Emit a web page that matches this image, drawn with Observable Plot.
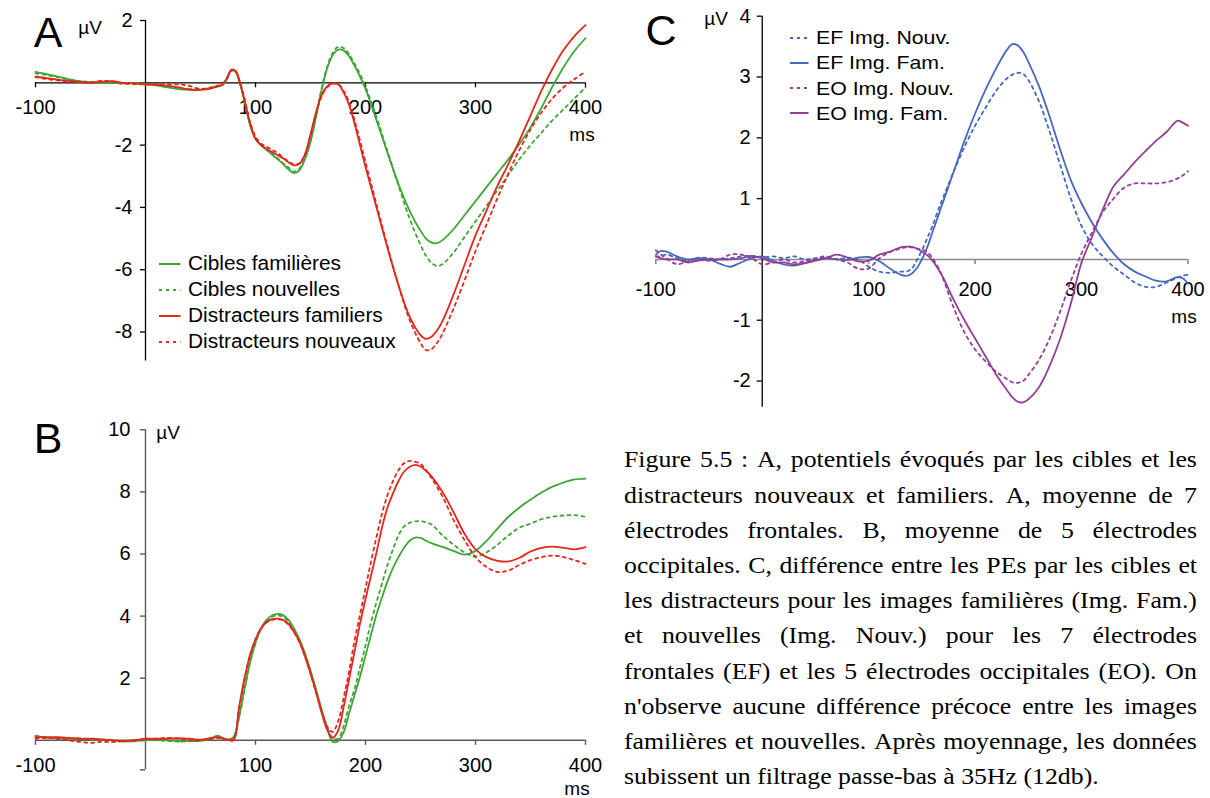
<!DOCTYPE html>
<html lang="fr">
<head>
<meta charset="utf-8">
<title>Figure 5.5</title>
<script src="https://cdn.jsdelivr.net/npm/d3@7"></script>
<script src="https://cdn.jsdelivr.net/npm/@observablehq/plot@0.6"></script>
<style>
html,body{margin:0;padding:0;background:#fff;}
#root{position:relative;width:1210px;height:798px;overflow:hidden;background:#fff;font-family:"Liberation Sans",Arial,Helvetica,sans-serif;color:#000;}
.abs{position:absolute;white-space:nowrap;line-height:1;}
#root svg{overflow:visible;}
.cap{position:absolute;font-family:"Liberation Serif","Times New Roman",serif;font-size:23.5px;color:#000;}
.capline{display:flex;justify-content:space-between;white-space:nowrap;height:35.2px;line-height:35.2px;transform-origin:0 50%;}
.capline.last{display:block;}
</style>
</head>
<body>
<div id="root"></div>
<script>
// ---------------- DATA ----------------
// Panel A : moyenne de 7 électrodes frontales
const namesA = ["Cibles familières", "Cibles nouvelles", "Distracteurs familiers", "Distracteurs nouveaux"];
const msA = [-100,-90,-80,-70,-60,-50,-40,-30,-20,-10,0,10,20,30,40,50,60,
  65,70,74,78,82,86,90,95,
  100,105,110,115,120,125,130,135,140,145,150,155,160,165,170,175,180,185,190,195,200,
  210,220,230,240,250,255,260,265,270,
  280,290,300,310,320,330,340,350,360,370,380,390,400];
const cibFamA = [0.35,0.28,0.2,0.12,0.05,0.02,0.0,0.0,-0.02,0.0,
  -0.03,-0.08,-0.15,-0.2,-0.22,-0.22,-0.16,
  -0.12,-0.08,0.1,0.4,0.35,-0.05,-0.6,-1.35,
  -1.8,-2.0,-2.15,-2.3,-2.45,-2.6,-2.78,-2.9,-2.8,-2.45,-1.9,-1.1,-0.25,0.45,0.88,1.06,1.04,0.85,0.55,0.2,-0.2,
  -1.2,-2.25,-3.25,-4.1,-4.75,-5.0,-5.13,-5.15,-5.05,
  -4.7,-4.25,-3.8,-3.35,-2.9,-2.45,-1.96,-1.43,-0.8,-0.12,0.5,1.02,1.43];
const cibNouA = [0.3,0.25,0.18,0.1,0.05,0.03,0.02,0.0,-0.03,-0.02,
  -0.05,-0.08,-0.12,-0.18,-0.2,-0.2,-0.15,
  -0.1,-0.05,0.12,0.38,0.35,-0.03,-0.55,-1.3,
  -1.78,-2.0,-2.15,-2.28,-2.42,-2.58,-2.72,-2.85,-2.75,-2.4,-1.85,-1.05,-0.2,0.5,0.95,1.15,1.12,0.92,0.62,0.28,-0.12,
  -1.1,-2.2,-3.3,-4.35,-5.2,-5.55,-5.78,-5.88,-5.82,
  -5.45,-4.95,-4.45,-3.95,-3.45,-2.95,-2.45,-2.0,-1.6,-1.2,-0.85,-0.5,-0.15];
const disFamA = [0.2,0.15,0.1,0.06,0.03,0.0,0.04,0.05,0.0,-0.02,
  -0.05,-0.06,-0.1,-0.15,-0.22,-0.23,-0.18,
  -0.12,-0.05,0.15,0.42,0.38,-0.02,-0.55,-1.3,
  -1.8,-2.0,-2.12,-2.22,-2.32,-2.42,-2.55,-2.65,-2.6,-2.3,-1.65,-0.95,-0.4,-0.12,-0.02,-0.05,-0.3,-0.7,-1.3,-2.0,-2.7,
  -4.0,-5.3,-6.5,-7.5,-8.1,-8.22,-8.15,-7.95,-7.65,
  -6.8,-5.85,-4.9,-4.1,-3.3,-2.6,-1.85,-1.05,-0.25,0.45,1.05,1.5,1.85];
const disNouA = [0.18,0.12,0.08,0.05,0.02,0.02,0.06,0.04,-0.02,-0.04,
  -0.05,-0.05,-0.05,-0.05,-0.1,-0.2,-0.15,
  -0.1,-0.03,0.15,0.4,0.36,0.0,-0.5,-1.25,
  -1.72,-1.95,-2.05,-2.15,-2.25,-2.4,-2.52,-2.62,-2.58,-2.3,-1.7,-1.0,-0.45,-0.15,-0.03,-0.04,-0.25,-0.62,-1.2,-1.85,-2.55,
  -3.9,-5.25,-6.5,-7.6,-8.35,-8.58,-8.55,-8.35,-8.05,
  -7.25,-6.35,-5.4,-4.55,-3.7,-2.9,-2.15,-1.5,-0.95,-0.5,-0.15,0.12,0.35];
const xTicksA = [-100, 100, 200, 300, 400];
const yTicksA = [2, -2, -4, -6, -8];

// Panel B : moyenne de 5 électrodes occipitales
const namesB = namesA;
const msB = [-100,-90,-80,-70,-60,-50,-40,-30,-20,-10,0,10,20,30,40,50,60,
  65,70,75,80,
  85,90,95,100,105,110,115,120,125,130,135,140,145,150,155,160,165,170,175,180,
  185,190,195,200,205,210,215,220,225,230,235,240,245,250,255,260,
  270,280,290,300,310,320,330,340,350,360,370,380,390,400];
const cibFamB = [0.15,0.08,0.07,0.05,0.05,0.03,0.02,0.0,-0.03,-0.03,0.0,0.02,0.0,-0.03,-0.02,-0.02,0.06,
  0.15,0.08,0.02,0.1,
  0.75,1.65,2.5,3.15,3.6,3.88,4.02,4.07,4.03,3.88,3.6,3.25,2.8,2.25,1.65,1.0,0.42,-0.05,-0.03,0.25,
  0.85,1.45,2.05,2.72,3.4,4.05,4.6,5.12,5.55,5.9,6.2,6.42,6.53,6.52,6.43,6.35,
  6.23,6.1,5.98,6.1,6.42,6.82,7.2,7.5,7.75,7.98,8.17,8.3,8.4,8.43];
const cibNouB = [0.12,0.1,0.05,0.04,0.06,0.03,0.0,-0.02,-0.02,0.0,0.02,0.0,-0.02,-0.04,-0.03,-0.01,0.05,
  0.12,0.06,0.02,0.08,
  0.72,1.62,2.5,3.12,3.58,3.85,3.98,4.02,3.98,3.82,3.55,3.2,2.75,2.2,1.6,0.98,0.45,0.08,0.05,0.45,
  1.1,1.65,2.35,3.05,3.8,4.45,5.05,5.65,6.15,6.6,6.88,7.0,7.05,7.06,7.02,6.95,
  6.6,6.3,6.05,5.92,6.05,6.3,6.6,6.85,6.98,7.12,7.2,7.24,7.25,7.2];
const disFamB = [0.1,0.1,0.1,0.08,0.05,0.05,0.03,0.0,-0.03,0.0,0.05,0.05,0.05,0.07,0.05,0.02,0.08,
  0.1,0.06,0.02,0.0,
  1.05,2.0,2.75,3.25,3.6,3.8,3.9,3.92,3.88,3.75,3.5,3.18,2.7,2.15,1.55,0.9,0.35,0.08,0.3,1.05,
  1.95,2.85,3.75,4.55,5.3,6.05,6.85,7.5,7.95,8.35,8.65,8.8,8.87,8.82,8.68,8.5,
  8.0,7.35,6.65,6.15,5.9,5.78,5.76,5.88,6.08,6.2,6.24,6.2,6.15,6.22];
const disNouB = [0.05,0.08,0.05,0.0,-0.05,-0.08,-0.05,-0.05,-0.03,0.0,0.03,0.05,0.08,0.05,0.0,0.0,0.05,
  0.08,0.05,0.0,0.02,
  1.0,1.95,2.72,3.25,3.6,3.8,3.88,3.9,3.86,3.72,3.48,3.15,2.7,2.15,1.55,0.95,0.45,0.27,0.6,1.35,
  2.2,3.2,4.05,4.9,5.75,6.55,7.3,7.9,8.35,8.7,8.92,9.0,8.97,8.9,8.7,8.45,
  7.85,7.1,6.45,5.9,5.58,5.42,5.47,5.65,5.8,5.9,5.95,5.9,5.8,5.68];
const xTicksB = [-100, 100, 200, 300, 400];
const yTicksB = [10, 8, 6, 4, 2];

// Panel C : différences cibles - distracteurs
const namesC = ["EF Img. Nouv.", "EF Img. Fam.", "EO Img. Nouv.", "EO Img. Fam."];
const msC = [-100,-95,-90,-80,-70,-60,-50,-40,-30,-20,-10,0,10,20,30,40,50,60,70,80,90,100,110,120,130,
  135,140,145,150,155,160,165,170,
  180,190,200,210,220,230,
  235,240,245,250,
  260,270,280,290,300,310,320,330,340,350,360,370,380,390,395,400];
const efNou = [0.05,0.05,0.08,0.02,-0.02,0.03,0.02,0.0,0.02,0.05,0.06,0.03,0.05,0.02,0.05,0.0,0.02,0.05,0.0,0.03,0.0,-0.12,-0.2,-0.22,-0.2,
  -0.2,-0.16,-0.02,0.15,0.35,0.55,0.8,1.02,
  1.45,1.85,2.2,2.5,2.78,2.98,
  3.04,3.07,3.05,2.95,
  2.6,2.1,1.55,1.0,0.55,0.25,0.05,-0.12,-0.25,-0.38,-0.45,-0.45,-0.38,-0.3,-0.27,-0.25];
const efFam = [0.08,0.14,0.13,0.05,0.0,0.02,0.0,-0.07,-0.12,-0.05,0.02,0.05,-0.02,-0.08,-0.1,-0.06,-0.01,0.02,0.0,-0.01,0.03,0.04,-0.03,-0.15,-0.25,
  -0.27,-0.24,-0.15,0.0,0.2,0.45,0.7,0.95,
  1.45,1.95,2.4,2.8,3.15,3.45,
  3.54,3.52,3.42,3.25,
  2.85,2.35,1.8,1.3,0.92,0.6,0.33,0.1,-0.08,-0.2,-0.28,-0.35,-0.36,-0.29,-0.31,-0.4];
const eoNou = [0.15,0.08,0.02,-0.08,-0.03,0.0,-0.02,0.0,0.08,0.08,0.02,-0.08,-0.05,0.0,-0.05,-0.03,0.0,0.03,0.0,-0.05,-0.15,-0.15,0.02,0.12,0.18,
  0.2,0.2,0.18,0.16,0.12,0.02,-0.12,-0.32,
  -0.8,-1.2,-1.48,-1.68,-1.85,-1.97,
  -2.02,-2.03,-2.0,-1.9,
  -1.65,-1.3,-0.85,-0.35,0.1,0.45,0.78,1.0,1.18,1.25,1.25,1.25,1.27,1.33,1.38,1.45];
const eoFam = [0.05,0.02,0.0,0.0,-0.05,-0.02,0.0,0.0,0.0,0.02,0.06,0.02,-0.05,-0.05,-0.08,-0.06,-0.02,0.02,0.08,0.03,-0.03,-0.02,0.08,0.13,0.2,
  0.21,0.21,0.18,0.13,0.07,-0.02,-0.15,-0.3,
  -0.67,-1.0,-1.3,-1.6,-1.9,-2.15,
  -2.27,-2.34,-2.35,-2.3,
  -2.1,-1.75,-1.3,-0.72,-0.05,0.38,0.82,1.2,1.4,1.6,1.78,1.95,2.1,2.28,2.25,2.2];
const xTicksC = [-100, 100, 200, 300, 400];
const yTicksC = [4, 3, 2, 1, -1, -2];

const captionLines = [
  "Figure 5.5 : A, potentiels évoqués par les cibles et les",
  "distracteurs nouveaux et familiers. A, moyenne de 7",
  "électrodes frontales. B, moyenne de 5 électrodes",
  "occipitales. C, différence entre les PEs par les cibles et",
  "les distracteurs pour les images familières (Img. Fam.)",
  "et nouvelles (Img. Nouv.) pour les 7 électrodes",
  "frontales (EF) et les 5 électrodes occipitales (EO). On",
  "n'observe aucune différence précoce entre les images",
  "familières et nouvelles. Après moyennage, les données",
  "subissent un filtrage passe-bas à 35Hz (12db)."
];

// ---------------- STYLES ----------------
const GREEN = "#3ea636", RED = "#e3271d", BLUE = "#4668bd", PURPLE = "#933f95";
const DOT = "3,4";
const stylesAB = [
  {color: GREEN}, {color: GREEN, dash: DOT}, {color: RED}, {color: RED, dash: DOT}
];
const stylesC = [
  {color: BLUE, dash: DOT}, {color: BLUE}, {color: PURPLE, dash: DOT}, {color: PURPLE}
];

const root = document.getElementById("root");

function panel(cfg) {
  const marks = [
    Plot.ruleY([0], {stroke: cfg.xAxisColor, strokeWidth: cfg.xAxisWidth}),
    Plot.ruleX([0], {stroke: cfg.yAxisColor, strokeWidth: cfg.yAxisWidth}),
    Plot.ruleX(cfg.xTicks, {x: d => d, y1: 0, y2: 0, insetTop: 0, insetBottom: -5, stroke: cfg.xAxisColor, strokeWidth: cfg.xAxisWidth}),
    Plot.ruleY(cfg.yTickMarks, {y: d => d, x1: 0, x2: 0, insetLeft: -5, insetRight: 0, stroke: cfg.yAxisColor, strokeWidth: cfg.yAxisWidth}),
    Plot.text(cfg.xTicks, {x: d => d, y: 0, dy: cfg.xLabelDy, text: d => String(d), fontSize: 20, fill: "#000"}),
    Plot.text(cfg.yTicks, {x: 0, y: d => d, dx: cfg.yLabelDx, textAnchor: "end", text: d => String(d), fontSize: 20, fill: "#000"})
  ];
  cfg.names.forEach((name, k) => {
    const rows = cfg.ms.map((t, i) => ({ms: t, v: cfg.values[k][i], serie: name}));
    const st = cfg.styles[k];
    const opts = {x: "ms", y: "v", stroke: st.color, strokeWidth: 1.8, curve: "catmull-rom"};
    if (st.dash) opts.strokeDasharray = st.dash;
    marks.push(Plot.line(rows, opts));
  });
  const svg = Plot.plot({
    width: cfg.width, height: cfg.height,
    marginLeft: cfg.mL, marginRight: cfg.mR, marginTop: cfg.mT, marginBottom: cfg.mB,
    x: {domain: [-100, 400], axis: null},
    y: {domain: cfg.yDomain, axis: null},
    style: {fontFamily: '"Liberation Sans", Arial, sans-serif', fontSize: "20px", background: "none", overflow: "visible", color: "#000"},
    marks
  });
  svg.style.position = "absolute";
  svg.style.left = cfg.left + "px";
  svg.style.top = cfg.top + "px";
  root.appendChild(svg);
}

// Panel A
panel({
  left: 0, top: 0, width: 600, height: 380, mL: 35, mR: 15, mT: 20, mB: 19.5,
  yDomain: [-8.93, 2], ms: msA, names: namesA, values: [cibFamA, cibNouA, disFamA, disNouA], styles: stylesAB,
  xTicks: xTicksA, yTicks: yTicksA, yTickMarks: yTicksA,
  xAxisColor: "#000", yAxisColor: "#000", xAxisWidth: 1.3, yAxisWidth: 1.3, xLabelDy: 24.5, yLabelDx: -13
});
// Panel B
panel({
  left: 0, top: 400, width: 600, height: 398, mL: 35, mR: 15, mT: 29.3, mB: 28.7,
  yDomain: [-0.95, 10], ms: msB, names: namesB, values: [cibFamB, cibNouB, disFamB, disNouB], styles: stylesAB,
  xTicks: xTicksB, yTicks: yTicksB, yTickMarks: yTicksB.concat([-0.95]),
  xAxisColor: "#5a5a5a", yAxisColor: "#5a5a5a", xAxisWidth: 1.4, yAxisWidth: 1.4, xLabelDy: 25, yLabelDx: -15
});
// Panel C
panel({
  left: 600, top: 0, width: 610, height: 420, mL: 55.3, mR: 22.5, mT: 15.7, mB: 13.3,
  yDomain: [-2.43, 4], ms: msC, names: namesC, values: [efNou, efFam, eoNou, eoFam], styles: stylesC,
  xTicks: xTicksC, yTicks: yTicksC, yTickMarks: yTicksC,
  xAxisColor: "#8c8c8c", yAxisColor: "#111", xAxisWidth: 1.6, yAxisWidth: 1.4, xLabelDy: 30.5, yLabelDx: -11.5
});

// ---------------- HTML text overlays ----------------
function label(txt, cx, cy, size, extra) {
  const d = document.createElement("div");
  d.className = "abs";
  d.textContent = txt;
  d.style.fontSize = size + "px";
  d.style.left = cx + "px";
  d.style.top = cy + "px";
  d.style.transform = "translate(-50%,-50%)" + (extra || "");
  root.appendChild(d);
  return d;
}
label("A", 48, 32, 43);
label("B", 48, 438, 43);
label("C", 661, 30, 43);
label("µV", 90, 27, 19);
label("µV", 168, 432, 19);
label("µV", 716, 18, 19);
label("ms", 582, 134, 19);
label("ms", 577, 788, 19);
label("ms", 1184, 316, 19);

function legend(names, styles, x0, x1, textX, top0, step, size, k) {
  names.forEach((n, i) => {
    const y = top0 + i * step;
    const st = styles[i];
    const s = document.createElementNS("http://www.w3.org/2000/svg", "svg");
    s.setAttribute("width", x1 - x0);
    s.setAttribute("height", 6);
    s.style.position = "absolute";
    s.style.left = x0 + "px";
    s.style.top = (y - 3) + "px";
    const l = document.createElementNS("http://www.w3.org/2000/svg", "line");
    l.setAttribute("x1", 0); l.setAttribute("x2", x1 - x0);
    l.setAttribute("y1", 3); l.setAttribute("y2", 3);
    l.setAttribute("stroke", st.color);
    l.setAttribute("stroke-width", 2);
    if (st.dash) l.setAttribute("stroke-dasharray", st.dash);
    s.appendChild(l);
    root.appendChild(s);
    const t = document.createElement("div");
    t.className = "abs";
    t.textContent = n;
    t.style.fontSize = size + "px";
    t.style.left = textX + "px";
    t.style.top = (y - size / 2) + "px";
    t.style.transformOrigin = "0 50%";
    t.style.transform = "scaleX(" + k + ")";
    root.appendChild(t);
  });
}
legend(namesA, stylesAB, 158.5, 180, 187.5, 263.5, 26.1, 19.5, 1.07);
legend(namesC, stylesC, 789.5, 808, 816, 37.7, 25.2, 19, 1.12);

// Caption
const K = 1.097, CAPW = 573;
const cap = document.createElement("div");
cap.className = "cap";
cap.style.left = "624px";
cap.style.top = (460 - 17.6) + "px";
captionLines.forEach((line, i) => {
  const d = document.createElement("div");
  const last = i === captionLines.length - 1;
  d.className = "capline" + (last ? " last" : "");
  d.style.width = (CAPW / K) + "px";
  d.style.transform = "scaleX(" + K + ")";
  if (last) {
    d.textContent = line;
  } else {
    line.split(" ").forEach(w => {
      const s = document.createElement("span");
      s.textContent = w;
      d.appendChild(s);
    });
  }
  cap.appendChild(d);
});
root.appendChild(cap);
</script>
</body>
</html>
